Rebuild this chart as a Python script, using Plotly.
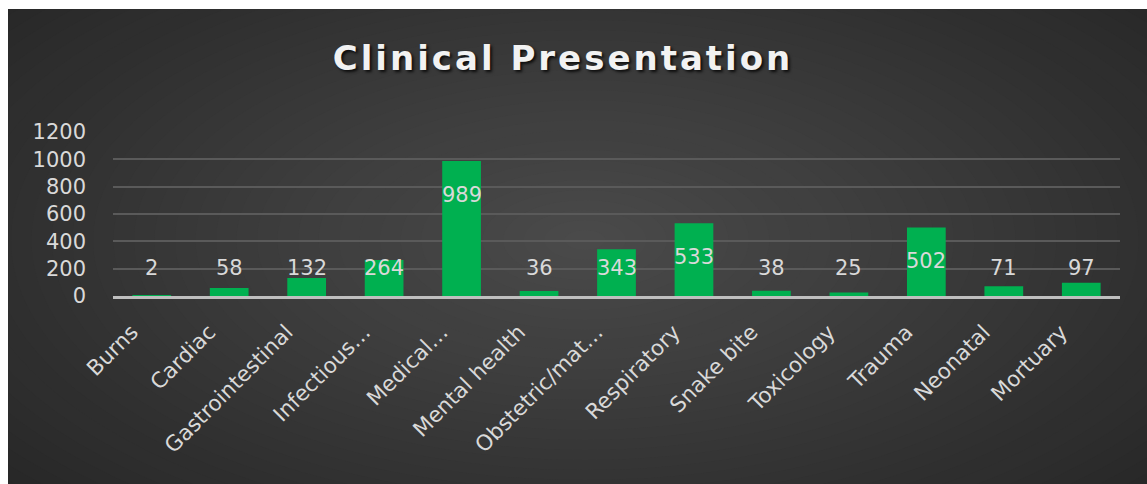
import plotly.graph_objects as go

# Clinical presentation counts by category
categories = [
    "Burns", "Cardiac", "Gastrointestinal", "Infectious…", "Medical…",
    "Mental health", "Obstetric/mat…", "Respiratory", "Snake bite",
    "Toxicology", "Trauma", "Neonatal", "Mortuary",
]
counts = [2, 58, 132, 264, 989, 36, 343, 533, 38, 25, 502, 71, 97]
y_ticks = [0, 200, 400, 600, 800, 1000, 1200]

W, H = 1147, 484
M_L, M_R, M_T, M_B = 113, 27, 132, 188
PW = W - M_L - M_R
PH = H - M_T - M_B
Y_MAX = 1200

BAR = "#00B050"
TXT = "#D9D9D9"
FONT = "DejaVu Sans, sans-serif"


def px_to_paper_x(px):
    return (px - M_L) / PW


def px_to_paper_y(py):
    return (H - M_B - py) / PH


fig = go.Figure()
fig.add_trace(go.Bar(
    x=categories, y=counts, marker=dict(color=BAR, line=dict(width=0)),
    hoverinfo="skip",
))

# Value labels: sit near the top of each bar, never lower than the 200 band
px_per_unit = PH / Y_MAX
for cat, v in zip(categories, counts):
    y_lab = max(v - 34 / px_per_unit, 208)
    fig.add_annotation(
        x=cat, y=y_lab, xref="x", yref="y", text=str(v), showarrow=False,
        font=dict(family=FONT, size=21, color=TXT),
        yanchor="middle", xanchor="center",
    )

# Dark backdrop with a soft radial light in the middle
shapes = []
shapes.append(dict(type="rect", xref="paper", yref="paper",
                   x0=px_to_paper_x(0), x1=px_to_paper_x(W),
                   y0=px_to_paper_y(H), y1=px_to_paper_y(0),
                   fillcolor="#262626", line=dict(width=0), layer="below"))
cx, cy = 585, 240
steps = 40
g_out, g_in = 36, 74
for i in range(steps):
    f = 1 - i / steps
    rx, ry = 820 * f, 400 * f
    g = round(g_out + (g_in - g_out) * (i + 1) / steps)
    shapes.append(dict(
        type="circle", xref="paper", yref="paper",
        x0=px_to_paper_x(cx - rx), x1=px_to_paper_x(cx + rx),
        y0=px_to_paper_y(cy + ry), y1=px_to_paper_y(cy - ry),
        fillcolor=f"rgb({g},{g},{g})", line=dict(width=0), layer="below",
    ))
# white page margin on the left and top
shapes.append(dict(type="rect", xref="paper", yref="paper",
                   x0=px_to_paper_x(-5), x1=px_to_paper_x(8),
                   y0=px_to_paper_y(H + 5), y1=px_to_paper_y(-5),
                   fillcolor="#FFFFFF", line=dict(width=0), layer="below"))
shapes.append(dict(type="rect", xref="paper", yref="paper",
                   x0=px_to_paper_x(-5), x1=px_to_paper_x(W + 5),
                   y0=px_to_paper_y(9), y1=px_to_paper_y(-5),
                   fillcolor="#FFFFFF", line=dict(width=0), layer="below"))
fig.update_layout(shapes=shapes)

fig.update_layout(
    width=W, height=H,
    margin=dict(l=M_L, r=M_R, t=M_T, b=M_B, pad=0),
    paper_bgcolor="#FFFFFF", plot_bgcolor="rgba(0,0,0,0)",
    showlegend=False, bargap=0.5,
    title=dict(
        text='<span style="letter-spacing:3px">Clinical Presentation</span>',
        x=563 / W, xanchor="center",
        y=1 - 58 / H, yanchor="middle",
        font=dict(family=FONT, size=34, color="#F2F2F2",
                  weight="bold", shadow="2px 2px 3px rgba(0,0,0,0.8)"),
    ),
    font=dict(family=FONT, color=TXT),
    xaxis=dict(
        tickangle=-45, tickfont=dict(size=21.5, color=TXT),
        showline=True, linecolor="#BFBFBF", linewidth=3,
        showgrid=False, ticks="", zeroline=False,
        ticklabelstandoff=12, ticklabelshift=-20,
    ),
    yaxis=dict(
        range=[0, Y_MAX + 0.6], tickvals=y_ticks,
        ticktext=[str(t) for t in y_ticks],
        tickfont=dict(size=21, color=TXT),
        showgrid=True, gridcolor="#5A5A5A", gridwidth=2,
        zeroline=False, showline=False, ticks="", ticklabelstandoff=26,
    ),
)

fig.write_html("out.html")
